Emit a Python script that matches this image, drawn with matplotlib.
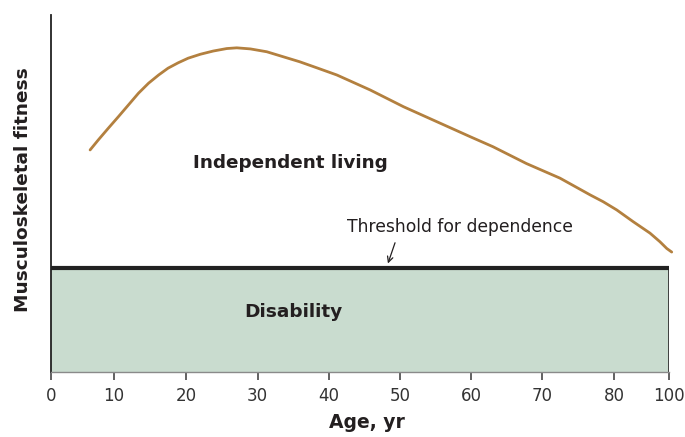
import matplotlib
matplotlib.use('Agg')

import matplotlib.pyplot as plt
import numpy as np

# tick ages and where the drawn axis puts them (the original scale is uneven)
tick_ages = [0, 10, 20, 30, 40, 50, 60, 70, 80, 100]
tick_spacing = [0, 63, 135, 206.5, 278, 349, 420, 491, 563, 618]

# musculoskeletal fitness curve
age = [6.2, 7.5, 9.1, 10.6, 12.0, 13.4, 14.8, 16.2, 17.5, 18.9, 20.3, 22.0,
       23.8, 25.7, 27.1, 29.0, 31.3, 33.6, 35.9, 38.3, 41.1, 45.8, 50.5, 55.2,
       59.9, 63.1, 67.8, 72.5, 76.7, 78.5, 81.0, 87.0, 93.1, 96.7, 99.2, 101.0]
fitness = [62.2, 65.0, 68.3, 71.5, 74.8, 78.1, 80.9, 83.2, 85.1, 86.6, 87.9, 89.0,
           89.9, 90.6, 90.8, 90.5, 89.7, 88.3, 86.9, 85.2, 83.2, 79.0, 74.3, 70.1,
           65.9, 63.1, 58.4, 54.3, 49.6, 47.7, 45.4, 42.1, 38.9, 36.5, 34.6, 33.6]

threshold = 29

text_col = '#231f20'

scale_ages = tick_ages + [120]
scale_pos = tick_spacing + [673]

def fwd(a):
    return np.interp(a, scale_ages, scale_pos)

def inv(p):
    return np.interp(p, scale_pos, scale_ages)


fig = plt.figure(figsize=(6.85, 4.37), dpi=100)
ax = fig.add_axes([0.0745, 0.1487, 0.9021, 0.817])

ax.set_xscale('function', functions=(fwd, inv))
ax.set_xlim(0, 100)
ax.set_ylim(0, 100)

# disability box under the threshold
ax.fill_between([0, 100], 0, threshold, color='#c9dccf', lw=0, zorder=1)
ax.plot([100, 100], [0, threshold], color='#333333', lw=1.3, zorder=2)
ax.plot([0, 100], [threshold, threshold], color='#222222', lw=3, solid_capstyle='butt', zorder=3)

ax.plot(age, fitness, color='#b3803f', lw=2, clip_on=False, zorder=4,
        solid_joinstyle='round', solid_capstyle='round')

ax.text(34.6, 58.5, 'Independent living', fontsize=13.2, fontweight='bold',
        color=text_col, ha='center', va='center')
ax.text(35.0, 16.8, 'Disability', fontsize=13.3, fontweight='bold',
        color=text_col, ha='center', va='center')
ax.text(58.5, 40.5, 'Threshold for dependence', fontsize=12.3, color=text_col,
        ha='center', va='center')
ax.annotate('', xy=(48.3, 30.4), xytext=(49.3, 36.2),
            arrowprops=dict(arrowstyle='->', color=text_col, lw=0.9,
                            shrinkA=0, shrinkB=0))

for s in ['top', 'right']:
    ax.spines[s].set_visible(False)
ax.spines['left'].set_color('#222222')
ax.spines['left'].set_linewidth(1.3)
ax.spines['bottom'].set_color('#8a8a8a')
ax.spines['bottom'].set_linewidth(1.0)

ax.set_yticks([])
ax.set_xticks(tick_ages)
ax.set_xticklabels([str(t) for t in tick_ages])
ax.tick_params(axis='x', direction='out', length=6, width=1.3, color='#555555',
               labelsize=12, labelcolor='#333333', pad=5)

ax.set_xlabel('Age, yr', fontsize=13.5, fontweight='bold', color=text_col)
ax.xaxis.set_label_coords(0.511, -0.115)
ax.set_ylabel('Musculoskeletal fitness', fontsize=13.3, fontweight='bold',
              color=text_col)
ax.yaxis.set_label_coords(-0.03, 0.51)

fig.savefig('out.png', dpi=100)
